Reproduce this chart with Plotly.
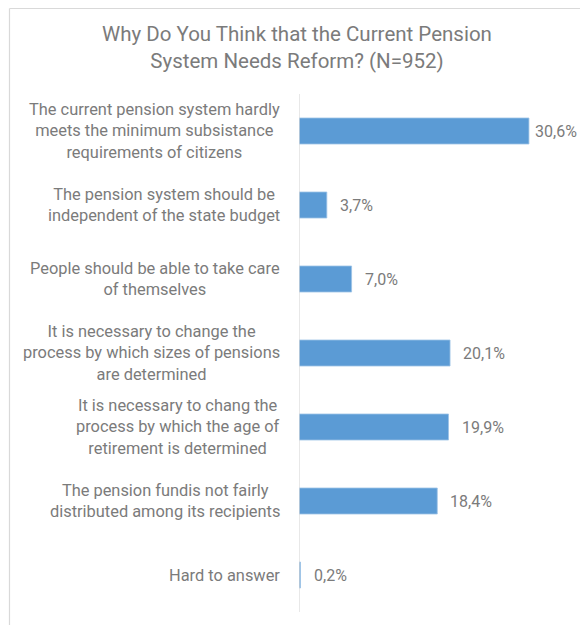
import plotly.graph_objects as go

# Survey data
title_lines = ["Why Do You Think that the Current Pension", "System Needs Reform? (N=952)"]
categories = [
    "The current pension system hardly<br>meets the minimum subsistance<br>requirements of citizens",
    "The pension system should be<br>independent of the state budget",
    "People should be able to take care<br>of themselves",
    "It is necessary to change the<br>process by which sizes of pensions<br>are determined",
    "It is necessary to chang the<br>process by which the age of<br>retirement is determined",
    "The pension fundis not fairly<br>distributed among its recipients",
    "Hard to answer",
]
values = [30.6, 3.7, 7.0, 20.1, 19.9, 18.4, 0.2]

W, H = 580, 625
ML, MR, MT, MB = 299, 18, 94, 13
XMAX = 35.0
plot_w = W - ML - MR
plot_h = H - MT - MB

GRAY = "#7B7B7B"
FONT = "Roboto, Arial, sans-serif"


def px_x(px):
    return (px - ML) / plot_w


def px_y(py):
    return (H - MB - py) / plot_h


labels = [f"{v:.1f}".replace(".", ",") + "%" for v in values]

fig = go.Figure(
    go.Bar(
        x=values,
        y=categories,
        orientation="h",
        marker=dict(color="#5B9BD5", line=dict(color="#9DC3E6", width=0.8)),
        hoverinfo="skip",
    )
)

annotations = []
# category labels, centred text block right-aligned against the axis
for cat in categories:
    annotations.append(dict(
        x=px_x(282), xref="paper", y=cat, yref="y",
        text=cat, showarrow=False, xanchor="right", yanchor="middle",
        align="center", font=dict(family=FONT, size=16.4, color=GRAY),
    ))
# value labels beside each bar
px_per_unit = plot_w / XMAX
for cat, v, lab in zip(categories, values, labels):
    end_px = ML + v * px_per_unit
    shift = min(11, W - 47 - end_px)
    annotations.append(dict(
        x=v, xref="x", y=cat, yref="y", text=lab, showarrow=False,
        xanchor="left", yanchor="middle", xshift=shift,
        font=dict(family=FONT, size=16, color=GRAY),
    ))
# title
annotations.append(dict(
    x=px_x(297), xref="paper", y=px_y(48), yref="paper",
    text="<br>".join(title_lines), showarrow=False,
    xanchor="center", yanchor="middle", align="center",
    font=dict(family=FONT, size=20.5, color=GRAY),
))

shapes = [
    # chart frame (top and left edges)
    dict(type="line", xref="paper", yref="paper",
         x0=px_x(9.5), x1=px_x(W + 5), y0=px_y(8.5), y1=px_y(8.5),
         line=dict(color="#D9D9D9", width=1.2)),
    dict(type="line", xref="paper", yref="paper",
         x0=px_x(9.5), x1=px_x(9.5), y0=px_y(8.5), y1=px_y(H + 5),
         line=dict(color="#D9D9D9", width=1.2)),
    # category axis line
    dict(type="line", xref="x", yref="paper", x0=0, x1=0, y0=0, y1=1,
         line=dict(color="#D9D9D9", width=1.2)),
]

fig.update_layout(
    width=W, height=H,
    margin=dict(l=ML, r=MR, t=MT, b=MB),
    paper_bgcolor="white", plot_bgcolor="white",
    bargap=1 - 26 / 74,
    showlegend=False,
    xaxis=dict(range=[0, XMAX], visible=False, fixedrange=True),
    yaxis=dict(categoryorder="array", categoryarray=categories,
               autorange="reversed", showticklabels=False, showgrid=False,
               zeroline=False, showline=False, ticks="", fixedrange=True),
    annotations=annotations,
    shapes=shapes,
)

fig.write_html("out.html")
